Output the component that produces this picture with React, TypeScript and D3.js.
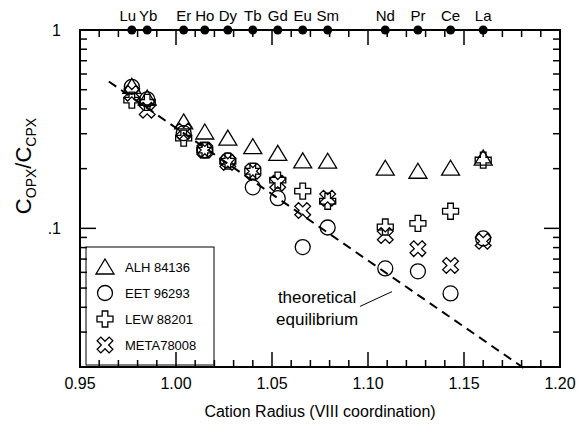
import * as d3 from 'd3';

const elements = ['Lu', 'Yb', 'Er', 'Ho', 'Dy', 'Tb', 'Gd', 'Eu', 'Sm', 'Nd', 'Pr', 'Ce', 'La'];
const radii = [0.977, 0.985, 1.004, 1.015, 1.027, 1.04, 1.053, 1.066, 1.079, 1.109, 1.126, 1.143, 1.16];

// C_OPX / C_CPX per sample
const alh84136 = [0.52, 0.454, 0.344, 0.306, 0.285, 0.258, 0.239, 0.219, 0.218, 0.201, 0.194, 0.201, 0.226];
const eet96293 = [0.517, 0.447, 0.302, 0.248, 0.22, 0.161, 0.142, 0.0805, 0.101, 0.0628, 0.0607, 0.047, 0.089];
const lew88201 = [0.443, 0.432, 0.285, 0.248, 0.218, 0.194, 0.175, 0.154, 0.137, 0.1016, 0.106, 0.122, 0.221];
const meta78008 = [0.48, 0.394, 0.309, 0.248, 0.215, 0.194, 0.169, 0.123, 0.142, 0.092, 0.079, 0.065, 0.086];

const sampleNames = ['ALH 84136', 'EET 96293', 'LEW 88201', 'META78008'];
const sampleSymbols = ['triangle', 'circle', 'plus', 'cross'];

const equilibrium = [[0.965, 0.55], [1.182, 0.0195]];

const xTicks = [0.95, 1.0, 1.05, 1.1, 1.15, 1.2];
const yTicks = [1, 0.1];
const yTickLabels = ['1', '.1'];

const W = 581;
const H = 429;
const m = { left: 80, right: 560, top: 30, bottom: 367 };
const FONT = '"Liberation Sans", Arial, sans-serif';

const x = d3.scaleLinear().domain([0.95, 1.2]).range([m.left, m.right]);
const y = d3.scaleLog().domain([0.02, 1]).range([m.bottom, m.top]);

const plusPath = (a: number, b: number) =>
  `M${-a},${-b}H${a}V${-a}H${b}V${a}H${a}V${b}H${-a}V${a}H${-b}V${-a}H${-a}Z`;

function Symbol({ kind, cx, cy }: { kind: string; cx: number; cy: number }) {
  const common = { fill: 'none', stroke: '#000', strokeWidth: 1.3 };
  if (kind === 'triangle')
    return <path d={`M${cx},${cy - 8}L${cx + 9},${cy + 7}L${cx - 9},${cy + 7}Z`} {...common} />;
  if (kind === 'circle') return <circle cx={cx} cy={cy} r={7.5} {...common} />;
  if (kind === 'plus')
    return <path d={plusPath(2.8, 8)} transform={`translate(${cx},${cy})`} {...common} />;
  return <path d={plusPath(2.6, 8.5)} transform={`translate(${cx},${cy}) rotate(45)`} {...common} />;
}

export default function App() {
  const series = [alh84136, eet96293, lew88201, meta78008];
  const xMinor = d3.range(95, 121).map((i) => i / 100);
  const yMinor = [2, 3, 4, 5, 6, 7, 8, 9].flatMap((k) => [k / 100, k / 10]);
  const line = d3
    .line<number[]>()
    .x((d) => x(d[0]))
    .y((d) => y(d[1]));
  const labelShift: Record<string, number> = { Lu: -4, Yb: 1 };

  return (
    <svg
      width={W}
      height={H}
      style={{ position: 'absolute', left: 0, top: 0, background: '#fff' }}
      fontFamily={FONT}
    >
      {/* dashed theoretical line */}
      <path d={line(equilibrium) || ''} fill="none" stroke="#000" strokeWidth={2} strokeDasharray="9,6" />

      {/* data */}
      {series.map((vals, si) =>
        vals.map((v, i) => (
          <Symbol key={`${si}-${i}`} kind={sampleSymbols[si]} cx={x(radii[i])} cy={y(v)} />
        ))
      )}

      {/* annotation */}
      <text x={x(1.0735)} y={y(0.0418)} fontSize={17} textAnchor="middle">theoretical</text>
      <text x={x(1.0735)} y={y(0.0324)} fontSize={17} textAnchor="middle">equilibrium</text>
      <line x1={x(1.0958)} y1={y(0.0404)} x2={x(1.1125)} y2={y(0.048)} stroke="#000" strokeWidth={1} />

      {/* legend */}
      <rect x={86} y={247} width={128} height={118} fill="#fff" stroke="#000" strokeWidth={1} />
      {sampleNames.map((n, i) => (
        <g key={n}>
          <Symbol kind={sampleSymbols[i]} cx={105} cy={267 + i * 26} />
          <text x={125} y={272 + i * 26} fontSize={13}>{n}</text>
        </g>
      ))}

      {/* frame */}
      <rect x={m.left} y={m.top} width={m.right - m.left} height={m.bottom - m.top} fill="none" stroke="#000" strokeWidth={2} />

      {/* x ticks, bottom and top */}
      {xMinor.map((t) => {
        const major = xTicks.some((v) => Math.abs(v - t) < 1e-6);
        const len = major ? 15 : 7;
        return (
          <g key={t}>
            <line x1={x(t)} x2={x(t)} y1={m.bottom} y2={m.bottom - len} stroke="#000" strokeWidth={1.5} />
            <line x1={x(t)} x2={x(t)} y1={m.top} y2={m.top + len} stroke="#000" strokeWidth={1.5} />
          </g>
        );
      })}
      {xTicks.map((t) => (
        <text key={t} x={x(t)} y={389} fontSize={16} textAnchor="middle">{t.toFixed(2)}</text>
      ))}

      {/* y ticks, left and right */}
      {[...yTicks, ...yMinor].map((t, i) => {
        const len = i < yTicks.length ? 16 : 7;
        return (
          <g key={t}>
            <line x1={m.left} x2={m.left + len} y1={y(t)} y2={y(t)} stroke="#000" strokeWidth={1.5} />
            <line x1={m.right} x2={m.right - len} y1={y(t)} y2={y(t)} stroke="#000" strokeWidth={1.5} />
          </g>
        );
      })}
      {yTicks.map((t, i) => (
        <text key={t} x={61} y={y(t) + 6} fontSize={16} textAnchor="end">{yTickLabels[i]}</text>
      ))}

      {/* element markers along top */}
      {elements.map((e, i) => (
        <g key={e}>
          <circle cx={x(radii[i])} cy={m.top} r={4.5} fill="#000" />
          <text x={x(radii[i]) + (labelShift[e] || 0)} y={21} fontSize={15} textAnchor="middle">{e}</text>
        </g>
      ))}

      {/* axis titles */}
      <text x={(m.left + m.right) / 2} y={417} fontSize={16} textAnchor="middle">
        Cation Radius (VIII coordination)
      </text>
      <text transform="translate(31,166) rotate(-90)" fontSize={22} textAnchor="middle">
        C<tspan fontSize={14} dy={5}>OPX</tspan>
        <tspan dy={-5}>/C</tspan>
        <tspan fontSize={14} dy={5}>CPX</tspan>
      </text>
    </svg>
  );
}
